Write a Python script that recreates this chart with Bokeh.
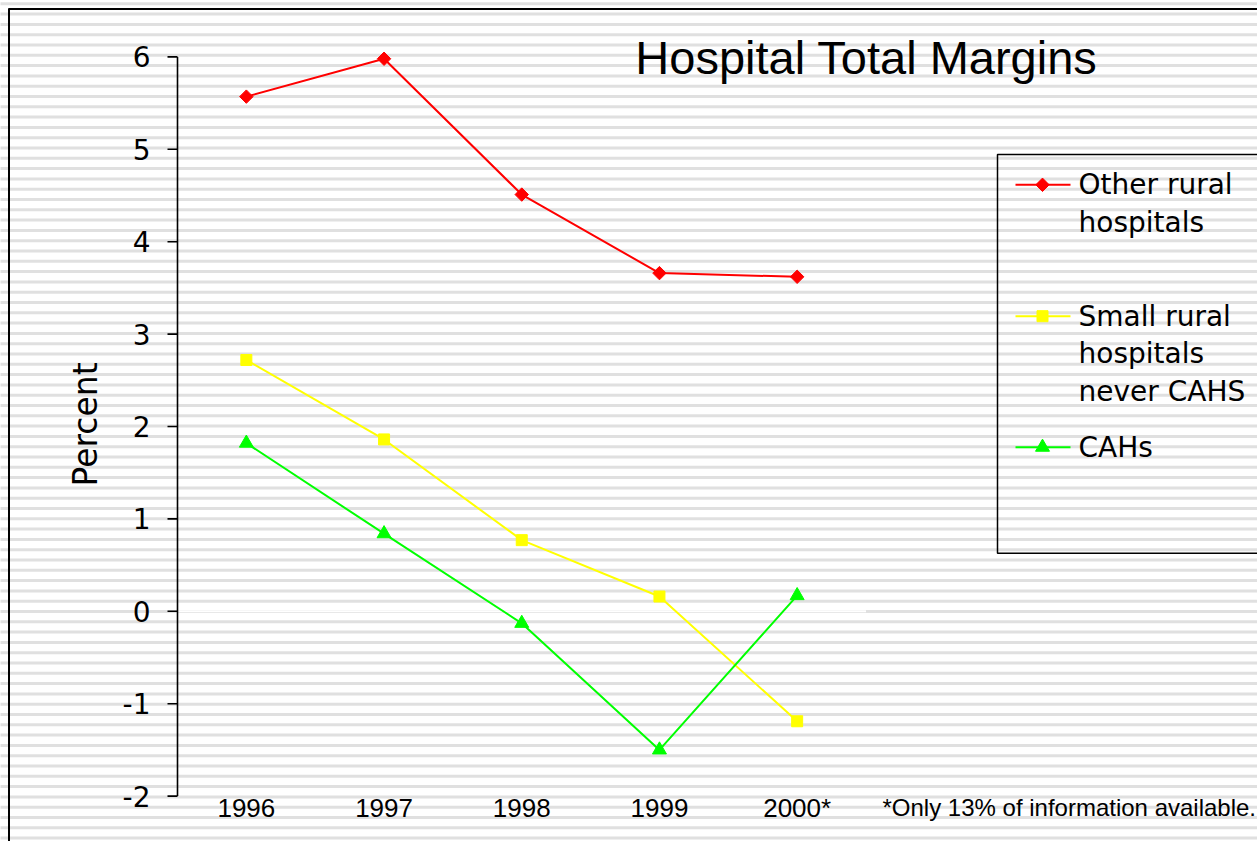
import numpy as np
from bokeh.plotting import figure
from bokeh.models import Range1d
from bokeh.core.properties import value
from bokeh.embed import file_html
from bokeh.resources import INLINE

# ---------------- data ----------------
years = ["1996", "1997", "1998", "1999", "2000*"]
other_rural = [5.57, 5.98, 4.51, 3.66, 3.62]
small_rural = [2.72, 1.86, 0.77, 0.16, -1.19]
cahs = [1.82, 0.84, -0.13, -1.50, 0.17]
series_labels = ["Other rural\nhospitals", "Small rural\nhospitals\nnever CAHS", "CAHs"]
y_ticks = [-2, -1, 0, 1, 2, 3, 4, 5, 6]
title_text = "Hospital Total Margins"
y_label = "Percent"
footnote = "*Only 13% of information available."

# ---------------- layout (pixels, picture coordinates) ----------------
W, H = 1257, 841
AX_X = 177       # y axis position
XS = 137.7       # px per category
Y0 = 610.8       # y=0 position (from top)
YS = 92.4        # px per percent


def dx(px):
    return (px - AX_X) / XS


def dy(py):
    return (Y0 - py) / YS


p = figure(width=W, height=H,
           x_range=Range1d(dx(0), dx(W)),
           y_range=Range1d(dy(H), dy(0)),
           output_backend="svg", toolbar_location=None,
           x_axis_location=None, y_axis_location=None,
           min_border=0, min_border_left=0, min_border_right=0,
           min_border_top=0, min_border_bottom=0)
p.title.visible = False
p.grid.visible = False
p.outline_line_color = None
p.background_fill_color = "white"
p.border_fill_color = "white"

# striped background
stripe_centers = np.arange(3.3, H + 12, 10.3)
p.quad(left=dx(0) - 1, right=dx(W) + 1,
       top=[dy(c - 1.5) for c in stripe_centers],
       bottom=[dy(c + 1.5) for c in stripe_centers],
       fill_color="#e0e0e0", line_color=None)

# outer frame (top and left edges)
p.segment(x0=dx(8), y0=dy(8.5), x1=dx(W) + 1, y1=dy(8.5),
          line_color="black", line_width=2)
p.segment(x0=dx(8.5), y0=dy(8), x1=dx(8.5), y1=dy(H) - 1,
          line_color="black", line_width=2)

# zero line (white) across plot area
p.segment(x0=0, y0=0, x1=len(years), y1=0, line_color="white", line_width=2)

# y axis
p.segment(x0=0, y0=min(y_ticks), x1=0, y1=max(y_ticks), line_color="black", line_width=1.6)
p.segment(x0=[-10 / XS] * len(y_ticks), y0=y_ticks, x1=[0] * len(y_ticks), y1=y_ticks,
          line_color="black", line_width=1.6)
p.text(x=[dx(150)] * len(y_ticks), y=y_ticks, text=[str(t) for t in y_ticks],
       text_align="right", text_baseline="middle", text_color="black",
       text_font=value("DejaVu Sans"), text_font_size="28px")

p.text(x=[dx(85)], y=[dy(424)], text=[y_label], angle=np.pi / 2,
       text_align="center", text_baseline="middle", text_color="black",
       text_font=value("DejaVu Sans"), text_font_size="33px")

# x labels
xs = np.arange(len(years)) + 0.5
p.text(x=xs, y=[dy(807)] * len(years), text=years,
       text_align="center", text_baseline="middle", text_color="black",
       text_font=value("Liberation Sans"), text_font_size="26px")

p.text(x=[dx(882)], y=[dy(807)], text=[footnote],
       text_align="left", text_baseline="middle", text_color="black",
       text_font=value("Liberation Sans"), text_font_size="24px")

# title
p.text(x=[dx(866)], y=[dy(57)], text=[title_text],
       text_align="center", text_baseline="alphabetic", text_color="black",
       text_font=value("Liberation Sans"), text_font_size="47px")

# series
styles = [
    (other_rural, "#ff0000", "square", 9.5, np.pi / 4),
    (small_rural, "#ffff00", "square", 11, 0.0),
    (cahs, "#00ff00", "triangle", 14, 0.0),
]
for vals, color, marker, size, ang in styles:
    p.line(xs, vals, line_color=color, line_width=2)
    p.scatter(xs, vals, marker=marker, size=size, angle=ang,
              fill_color=color, line_color=color)

# legend
p.quad(left=dx(997), right=dx(W) + 1, top=dy(154), bottom=dy(552.7),
       fill_color=None, line_color="black", line_width=1.5)
entry_y = [184.3, 315.7, 446.7]
for (vals, color, marker, size, ang), label, ey in zip(styles, series_labels, entry_y):
    p.segment(x0=dx(1015), y0=dy(ey), x1=dx(1070), y1=dy(ey), line_color=color, line_width=2)
    p.scatter([dx(1042)], [dy(ey)], marker=marker, size=size, angle=ang,
              fill_color=color, line_color=color)
    lines = label.split("\n")
    p.text(x=[dx(1078)] * len(lines), y=[dy(ey + i * 37.6) for i in range(len(lines))],
           text=lines, text_align="left", text_baseline="middle", text_color="black",
           text_font=value("DejaVu Sans"), text_font_size="28px")

open("out.html", "w").write(file_html(p, INLINE))
